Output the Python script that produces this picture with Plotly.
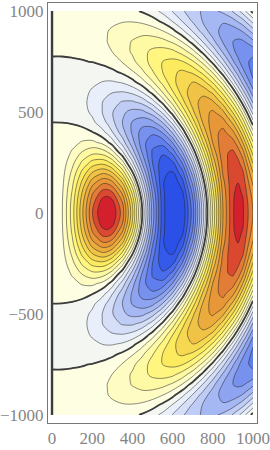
import plotly.graph_objects as go

# Radial position of the columns and height of the rows (upper half; the figure is mirror-symmetric)
x_values = [0, 50, 100, 150, 200, 250, 275, 300, 350, 400, 450, 500, 550, 600, 650, 700, 750, 800, 850, 900, 925, 950, 1000]
y_upper = [0, 50, 100, 150, 200, 250, 300, 350, 400, 450, 500, 550, 600, 650, 700, 750, 800, 850, 900, 950, 1000]

# Values along x = 0: practically zero, only the sign of the neighbouring band is kept
column_x0 = [.0001, .0001, .0001, .0001, .0001, .0001, .0001, .0001, .0001, -.000002, -.0001, -.0001, -.0001, -.0001, -.0001, -.0001,
             .0001, .0001, .0001, .0001, .0001]

# Values, one list per row (x = 50 ... 1000)
row_y0 = [.081, .301, .594, .871, 1.041, 1.063, 1.037, .836, .464, -.007, -.476, -.837, -1.007, -.944, -.660, -.221, .269, .696, .957, .990, .975, .785]
row_y50 = [.080, .294, .577, .843, 1.005, 1.028, .998, .796, .429, -.033, -.491, -.840, -1.001, -.929, -.642, -.204, .283, .703, .957, .987, .970, .774]
row_y100 = [.074, .271, .532, .775, .914, .927, .891, .686, .331, -.108, -.533, -.850, -.985, -.887, -.590, -.154, .321, .723, .955, .978, .955, .740]
row_y150 = [.064, .236, .460, .666, .770, .771, .727, .525, .188, -.217, -.598, -.864, -.951, -.819, -.506, -.072, .383, .755, .954, .962, .925, .685]
row_y200 = [.053, .194, .375, .528, .596, .582, .529, .329, .017, -.339, -.658, -.859, -.887, -.724, -.394, .034, .465, .797, .951, .947, .888, .612]
row_y250 = [.040, .146, .278, .381, .406, .377, .320, .123, -.155, -.454, -.702, -.837, -.804, -.596, -.251, .159, .549, .826, .928, .900, .820, .517]
row_y300 = [.028, .099, .182, .235, .222, .183, .121, -.065, -.304, -.538, -.711, -.771, -.677, -.436, -.091, .293, .635, .854, .893, .837, .732, .404]
row_y350 = [.016, .056, .096, .107, .063, .015, -.048, -.215, -.406, -.578, -.679, -.666, -.519, -.257, .080, .427, .706, .849, .821, .737, .607, .271]
row_y400 = [.007, .021, .026, .004, -.060, -.109, -.171, -.312, -.454, -.563, -.590, -.518, -.336, -.067, .246, .542, .747, .815, .721, .612, .466, .122]
row_y450 = [-.0004, -.005, -.024, -.067, -.140, -.188, -.239, -.350, -.445, -.489, -.462, -.344, -.141, .120, .393, .621, .752, .745, .590, .458, .310, -.052]
row_y500 = [-.005, -.021, -.054, -.105, -.176, -.216, -.257, -.333, -.377, -.374, -.301, -.155, .049, .284, .503, .664, .715, .637, .427, .293, .138, -.216]
row_y550 = [-.007, -.028, -.064, -.114, -.173, -.202, -.229, -.269, -.274, -.231, -.128, .026, .215, .411, .566, .650, .629, .486, .253, .111, -.052, -.369]
row_y600 = [-.007, -.027, -.059, -.099, -.140, -.155, -.169, -.177, -.150, -.080, .034, .181, .343, .482, .575, .584, .502, .314, .064, -.084, -.232, -.501]
row_y650 = [-.006, -.021, -.044, -.069, -.088, -.093, -.093, -.074, -.025, .057, .168, .294, .410, .497, .523, .471, .331, .131, -.127, -.259, -.387, -.598]
row_y700 = [-.003, -.012, -.023, -.032, -.032, -.027, -.017, .020, .080, .162, .257, .350, .423, .451, .418, .315, .154, -.063, -.295, -.403, -.503, -.645]
row_y750 = [-.001, -.003, -.003, .002, .018, .031, .047, .093, .154, .224, .296, .350, .374, .354, .275, .145, -.033, -.232, -.425, -.505, -.570, -.642]
row_y800 = [.001, .005, .013, .029, .054, .071, .089, .135, .187, .238, .280, .298, .283, .219, .118, -.029, -.197, -.365, -.505, -.554, -.581, -.578]
row_y850 = [.002, .010, .023, .044, .071, .088, .107, .144, .180, .209, .220, .204, .157, .077, -.043, -.181, -.324, -.446, -.524, -.542, -.536, -.459]
row_y900 = [.003, .012, .026, .047, .072, .085, .099, .124, .142, .148, .132, .094, .029, -.067, -.178, -.296, -.398, -.466, -.487, -.468, -.431, -.315]
row_y950 = [.003, .011, .023, .039, .057, .065, .073, .082, .083, .070, .038, -.018, -.092, -.181, -.273, -.355, -.413, -.429, -.386, -.341, -.295, -.142]
row_y1000 = [.002, .007, .015, .024, .032, .035, .036, .033, .019, -.010, -.054, -.111, -.180, -.252, -.316, -.361, -.370, -.331, -.255, -.198, -.128, .035]

upper_rows = [row_y0, row_y50, row_y100, row_y150, row_y200, row_y250, row_y300, row_y350, row_y400, row_y450,
              row_y500, row_y550, row_y600, row_y650, row_y700, row_y750, row_y800, row_y850, row_y900, row_y950, row_y1000]

band_colors = ["#2a50e8", "#3f62ea", "#5274ec", "#6884ee", "#7e97f0", "#94a9f2", "#abbdf4", "#c4d1f6",
               "#d9e1f8", "#eaf0fb", "#f4f7f1",
               "#fdfee2", "#fefcc4", "#fef9a6", "#fff684", "#fdee62", "#f8dd54", "#f2c948", "#ecb340",
               "#e89e38", "#e48838", "#df6a32", "#d3202c"]
level_start = -.875
level_end = .9625
level_step = .0875
x_ticks = [0, 200, 400, 600, 800, 1000]
y_ticks = [-1000, -500, 0, 500, 1000]

all_y = [-v for v in y_upper[:0:-1]] + y_upper
half = [[c] + r for c, r in zip(column_x0, upper_rows)]
all_z = half[:0:-1] + half

n = len(band_colors)
scale = [[0, band_colors[0]]] + [[(i + .5) / n, c] for i, c in enumerate(band_colors)] + [[1, band_colors[-1]]]

fig = go.Figure()
fig.add_trace(go.Contour(
    x=x_values, y=all_y, z=all_z,
    zmin=level_start - level_step, zmax=level_end + level_step,
    colorscale=scale, showscale=False, hoverinfo="skip",
    contours=dict(start=level_start, end=level_end, size=level_step, coloring="fill"),
    line=dict(color="rgba(35,35,35,0.65)", width=0.8, smoothing=1),
))
fig.add_trace(go.Contour(
    x=x_values, y=all_y, z=all_z, showscale=False, hoverinfo="skip",
    contours=dict(start=0, end=0, size=1, coloring="none"),
    line=dict(color="#3d3d3d", width=1.8, smoothing=1),
))
fig.add_trace(go.Scatter(
    x=[x_values[0], x_values[0]], y=[all_y[0], all_y[-1]], mode="lines",
    line=dict(color="#3d3d3d", width=2.4), hoverinfo="skip", showlegend=False,
))

axis = dict(showgrid=False, zeroline=False, showline=True, mirror=True, linecolor="#777777", linewidth=1,
            automargin=False, ticks="", tickfont=dict(family="Liberation Serif", size=17, color="#858585"))
fig.update_xaxes(range=[-20, 1020], tickvals=x_ticks, ticktext=[str(v) for v in x_ticks], **axis)
fig.update_yaxes(range=[-1040, 1040], tickvals=y_ticks,
                 ticktext=[str(v).replace("-", "\u2212") for v in y_ticks], **axis)
fig.update_layout(width=270, height=450, autosize=False, showlegend=False,
                  paper_bgcolor="white", plot_bgcolor="white",
                  margin=dict(l=48, r=13, t=3, b=27))
fig.write_html("out.html", config=dict(displayModeBar=False),
               post_script="document.body.style.margin='0';")
